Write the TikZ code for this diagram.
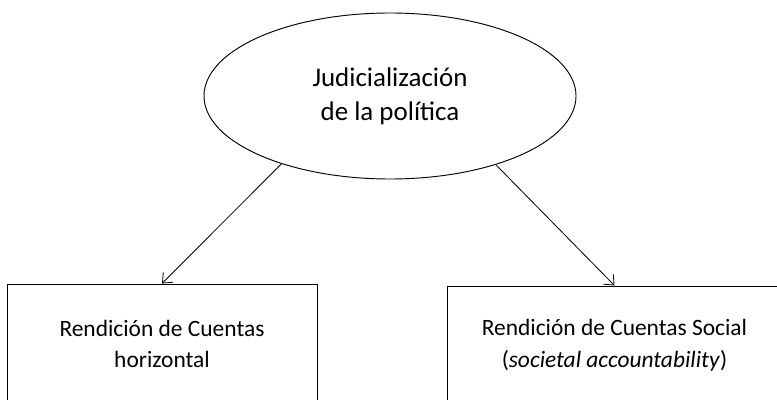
\documentclass[tikz,border=0pt]{standalone}
\usepackage{fontspec}
\setmainfont{Carlito}
\usetikzlibrary{arrows.meta, positioning, shapes.geometric}

\begin{document}
\begin{tikzpicture}[x=0.03cm, y=-0.03cm, >={Straight Barb[length=7pt, width=12pt]},
    idea/.style={draw, ellipse, line width=0.8pt, minimum width=11.16cm, minimum height=4.98cm, align=center, font=\fontsize{23}{29}\selectfont},
    block/.style={draw, rectangle, line width=0.8pt, align=center, font=\fontsize{20}{27}\selectfont}]
    \useasboundingbox (0,0) rectangle (777,400);
    \clip (0,0) rectangle (777,400);

    \node[idea] (judic) at (390,96) {Judicialización\\de la política};
    \node[block, minimum width=9.3cm, minimum height=3.6cm] (horiz) at (162,344) {Rendición de Cuentas\\horizontal};
    \node[block, minimum width=10.05cm, minimum height=3.54cm] (social) at (614.5,345) {Rendición de Cuentas Social\\(\textit{societal accountability})};

    \draw[->, line width=0.7pt] (judic.212) -- (horiz.north);
    \draw[->, line width=0.7pt] (judic.327) -- (social.north);
\end{tikzpicture}
\end{document}
